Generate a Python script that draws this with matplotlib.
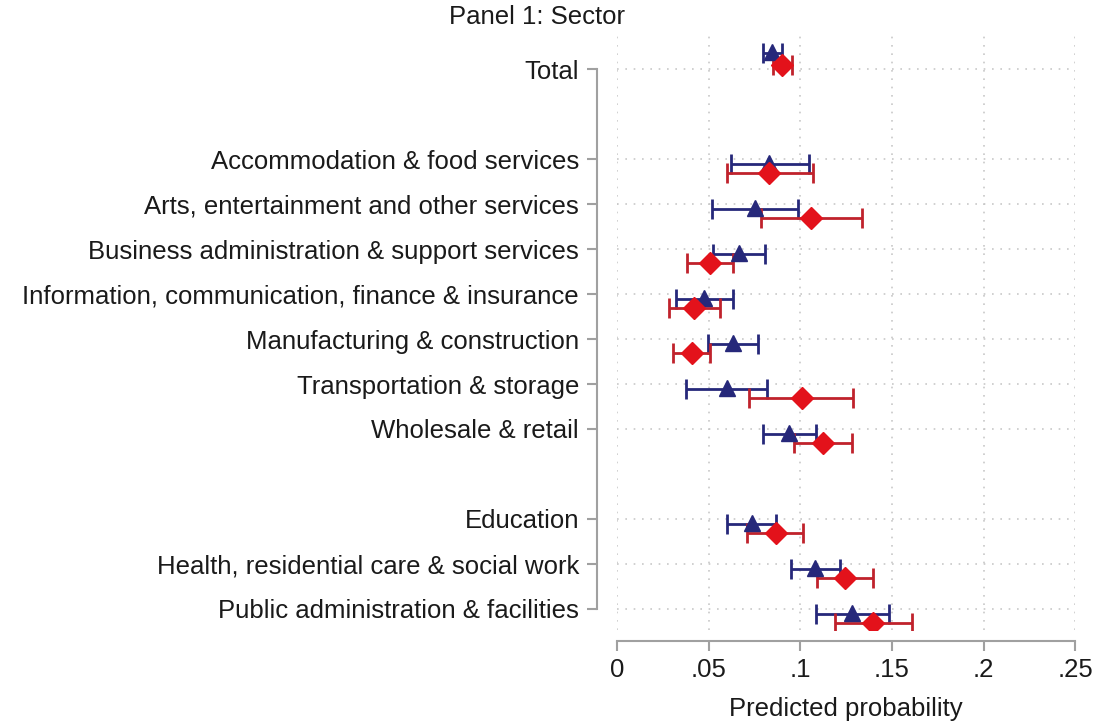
import numpy as np
import matplotlib.pyplot as plt

plt.rcParams['font.family'] = ['Liberation Sans', 'DejaVu Sans']

# Sector rows (gaps left at positions 1 and 9)
labels = ['Total',
          'Accommodation & food services',
          'Arts, entertainment and other services',
          'Business administration & support services',
          'Information, communication, finance & insurance',
          'Manufacturing & construction',
          'Transportation & storage',
          'Wholesale & retail',
          'Education',
          'Health, residential care & social work',
          'Public administration & facilities']
rows = [0, 2, 3, 4, 5, 6, 7, 8, 10, 11, 12]

# Group 1 (blue triangles): estimate and 95% CI
blue_est = [0.0846, 0.083, 0.0753, 0.0666, 0.0475, 0.0635, 0.060, 0.094, 0.0735, 0.108, 0.1283]
blue_lo = [0.0797, 0.062, 0.0519, 0.0524, 0.0322, 0.0497, 0.0377, 0.0799, 0.0599, 0.0948, 0.1086]
blue_hi = [0.0901, 0.105, 0.0988, 0.0808, 0.0635, 0.077, 0.0817, 0.1087, 0.0868, 0.1217, 0.1485]

# Group 2 (red diamonds): estimate and 95% CI
red_est = [0.090, 0.083, 0.106, 0.0508, 0.0421, 0.0408, 0.101, 0.1125, 0.0868, 0.1245, 0.1397]
red_lo = [0.085, 0.060, 0.0786, 0.0382, 0.0284, 0.0305, 0.072, 0.0966, 0.0708, 0.1092, 0.119]
red_hi = [0.0955, 0.107, 0.1337, 0.0633, 0.0562, 0.0508, 0.129, 0.1284, 0.1016, 0.1399, 0.161]

xticks = [0, 0.05, 0.1, 0.15, 0.2, 0.25]
xticklabels = ['0', '.05', '.1', '.15', '.2', '.25']

navy = '#26287a'
red = '#e3121b'
red_bar = '#c0222c'
grey = '#a0a0a0'
fs = 18.5

fig = plt.figure(figsize=(10.96, 7.22), dpi=100)
ax = fig.add_axes([0.563, 0.1274, 0.418, 0.8241])

rows_arr = np.array(rows, dtype=float)
blue_off = np.where(rows_arr == 0, -0.36, 0.11)
red_off = np.where(rows_arr == 0, -0.09, 0.31)

be = np.array(blue_est)
re = np.array(red_est)
ax.errorbar(be, rows_arr + blue_off,
            xerr=[be - np.array(blue_lo), np.array(blue_hi) - be],
            fmt='none', ecolor=navy, elinewidth=2, capsize=7, capthick=2, zorder=3)
ax.errorbar(re, rows_arr + red_off,
            xerr=[re - np.array(red_lo), np.array(red_hi) - re],
            fmt='none', ecolor=red_bar, elinewidth=2, capsize=7, capthick=2, zorder=3)
ax.plot(be, rows_arr + blue_off - 0.02, '^', color=navy, markersize=12, zorder=4)
ax.plot(re, rows_arr + red_off, 'D', color=red, markersize=11, zorder=5)

ax.set_xlim(0, 0.25)
ax.set_ylim(12.47, -0.76)
ax.set_xticks(xticks)
ax.set_xticklabels(xticklabels)
ax.set_yticks(rows)
ax.set_yticklabels(labels)

# dotted grid on both axes
ax.grid(True, linestyle=(0, (1, 4)), color='#c8c8c8', linewidth=1.2)
ax.set_axisbelow(True)

for side in ['top', 'right']:
    ax.spines[side].set_visible(False)
ax.spines['left'].set_position(('outward', 14.4))
ax.spines['left'].set_bounds(0, 12)
ax.spines['bottom'].set_position(('outward', 8))
ax.spines['bottom'].set_bounds(0, 0.25)
for side in ['left', 'bottom']:
    ax.spines[side].set_color(grey)
    ax.spines[side].set_linewidth(1.5)

ax.tick_params(axis='both', colors=grey, length=7, width=1.5, labelcolor='#1a1a1a', labelsize=fs)
ax.tick_params(axis='y', pad=6)
ax.tick_params(axis='x', pad=5)

ax.set_xlabel('Predicted probability', fontsize=fs, color='#1a1a1a', labelpad=11)
fig.text(537 / 1096, 1 - 17 / 722, 'Panel 1: Sector', ha='center', va='center',
         fontsize=fs, color='#1a1a1a')

fig.savefig('out.png', dpi=100, facecolor='white')
